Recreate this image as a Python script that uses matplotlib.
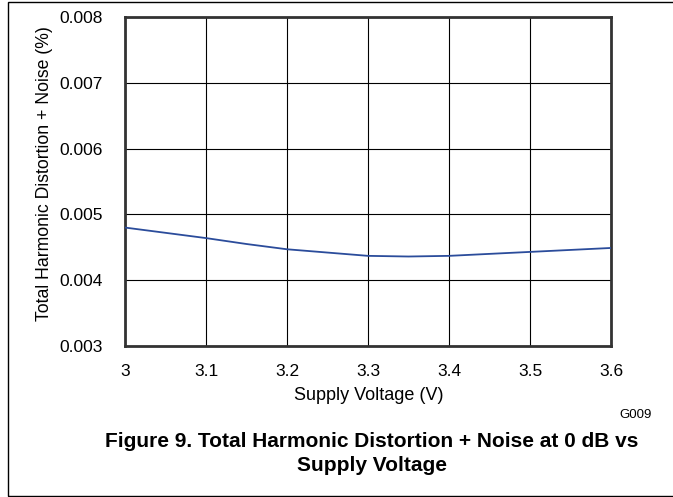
import matplotlib.pyplot as plt
from matplotlib.patches import Rectangle

plt.rcParams['font.family'] = ['Liberation Sans', 'DejaVu Sans']

# supply voltage (V) and THD+N (%)
voltage = [3.0, 3.05, 3.1, 3.15, 3.2, 3.25, 3.3, 3.35, 3.4, 3.45, 3.5, 3.55, 3.6]
thdn = [0.00480, 0.00472, 0.00464, 0.00455, 0.00447, 0.00442, 0.00437,
        0.00436, 0.00437, 0.00440, 0.00443, 0.00446, 0.00449]

x_ticks = [3.0, 3.1, 3.2, 3.3, 3.4, 3.5, 3.6]
x_tick_labels = ['3', '3.1', '3.2', '3.3', '3.4', '3.5', '3.6']
y_ticks = [0.003, 0.004, 0.005, 0.006, 0.007, 0.008]
y_tick_labels = ['0.003', '0.004', '0.005', '0.006', '0.007', '0.008']

W, H = 673, 497
fig = plt.figure(figsize=(W / 100, H / 100), dpi=100)

# outer frame (right edge runs off the image)
fig.patches.append(Rectangle((8 / W, 1.5 / H), 1.0, (H - 3) / H,
                             transform=fig.transFigure, fill=False,
                             edgecolor='black', linewidth=1.0))

ax = fig.add_axes([125 / W, 1 - 346 / H, (611 - 125) / W, (346 - 17) / H])
ax.plot(voltage, thdn, color='#2b4c9b', linewidth=1.3, zorder=3)

ax.set_xlim(3.0, 3.6)
ax.set_ylim(0.003, 0.008)
ax.set_xticks(x_ticks)
ax.set_xticklabels(x_tick_labels)
ax.set_yticks(y_ticks)
ax.set_yticklabels(y_tick_labels)
ax.tick_params(length=0, labelsize=12.5)
ax.tick_params(axis='x', pad=13)
ax.tick_params(axis='y', pad=16)
ax.grid(True, color='black', linewidth=0.8)
for sp in ax.spines.values():
    sp.set_linewidth(2.0)
    sp.set_color('#333333')

ax.set_xlabel('Supply Voltage (V)', fontsize=13)
ax.set_ylabel('Total Harmonic Distortion + Noise (%)', fontsize=12.7)
# label centres, in pixels
ax.xaxis.set_label_coords((369 - 125) / (611 - 125), -(396 - 346) / (346 - 17))
ax.yaxis.set_label_coords(-(125 - 44.5) / (611 - 125), (346 - 174) / (346 - 17))
ax.xaxis.label.set_va('center')
ax.yaxis.label.set_va('center')

fig.text(636 / W, 1 - 414.5 / H, 'G009', fontsize=9.5, ha='center', va='center')
fig.text(372 / W, 1 - 447 / H,
         'Figure 9. Total Harmonic Distortion + Noise at 0 dB vs',
         fontsize=15, fontweight='bold', ha='center', va='baseline')
fig.text(372 / W, 1 - 471 / H, 'Supply Voltage',
         fontsize=15, fontweight='bold', ha='center', va='baseline')

fig.savefig('out.png', dpi=100)
